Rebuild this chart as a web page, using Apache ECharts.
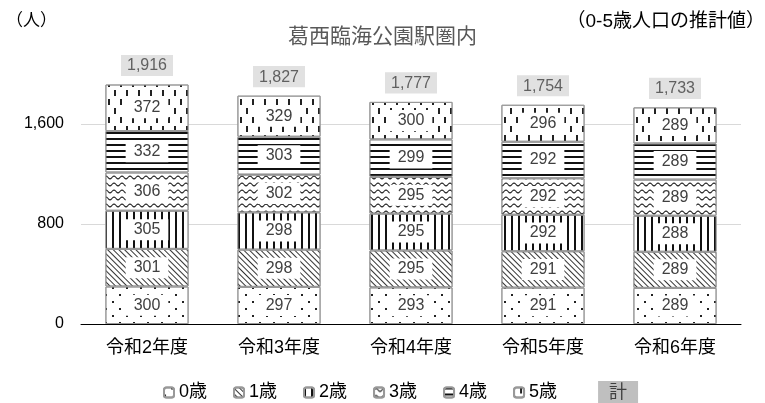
<!DOCTYPE html>
<html>
<head>
<meta charset="utf-8">
<script src="https://cdn.jsdelivr.net/npm/echarts@6/dist/echarts.min.js"></script>
<style>
  html, body { margin: 0; padding: 0; background: #fff; }
  #chart { width: 765px; height: 403px; }
</style>
</head>
<body>
<div id="chart"></div>
<script>
const categories = ["令和2年度", "令和3年度", "令和4年度", "令和5年度", "令和6年度"];
const age0 = [300, 297, 293, 291, 289];
const age1 = [301, 298, 295, 291, 289];
const age2 = [305, 298, 295, 292, 288];
const age3 = [306, 302, 295, 292, 289];
const age4 = [332, 303, 299, 292, 289];
const age5 = [372, 329, 300, 296, 289];
const totals = [1916, 1827, 1777, 1754, 1733];
const seriesNames = ["0歳", "1歳", "2歳", "3歳", "4歳", "5歳"];

const FONT = "'Liberation Sans', 'Noto Sans CJK JP', sans-serif";
const WAVE = "path://M0,3 Q3,-1 6,3 Q9,7 12,3 L12,5 Q9,9 6,5 Q3,1 0,5 Z";

// hatch patterns, one per age group
const decals = [
  { symbol: "rect", symbolSize: 1, color: "#222", dashArrayX: [[2, 12], [0, 7, 2, 5]], dashArrayY: [2, 5] },
  { symbol: "rect", symbolSize: 1, color: "#333", dashArrayX: [1, 0], dashArrayY: [1, 2.6], rotation: Math.PI / 4 },
  { symbol: "rect", symbolSize: 1, color: "#111", dashArrayX: [2, 5], dashArrayY: [1, 0] },
  { symbol: WAVE, symbolSize: 1, color: "#222", dashArrayX: [8, 0], dashArrayY: [5, 2] },
  { symbol: "rect", symbolSize: 1, color: "#111", dashArrayX: [1, 0], dashArrayY: [2, 4] },
  { symbol: "rect", symbolSize: 1, color: "#222", dashArrayX: [[2, 10], [0, 6, 2, 4]], dashArrayY: [6, 3] }
];

const ageData = [age0, age1, age2, age3, age4, age5];

const barSeries = ageData.map((arr, i) => ({
  name: seriesNames[i],
  type: "bar",
  stack: "total",
  barWidth: "63%",
  data: arr,
  itemStyle: {
    color: "#fff",
    borderColor: "#999",
    borderWidth: 1,
    decal: decals[i]
  },
  label: {
    show: true,
    position: "inside",
    color: "#404040",
    fontFamily: FONT,
    fontSize: 16,
    backgroundColor: "#fff",
    padding: [3, 8, 2, 8]
  },
  emphasis: { disabled: true }
}));

const chart = echarts.init(document.getElementById("chart"), null, { renderer: "canvas" });

chart.setOption({
  animation: false,
  aria: { enabled: false },
  title: {
    text: "葛西臨海公園駅圏内",
    left: "center",
    top: 22,
    textStyle: { fontFamily: FONT, fontSize: 21, fontWeight: "normal", color: "#595959" }
  },
  graphic: [
    { type: "text", left: 6, top: 13, style: { text: "（人）", font: "17px " + FONT, fill: "#000" } },
    { type: "text", right: 0, top: 12, style: { text: "（0-5歳人口の推計値）", font: "19px " + FONT, fill: "#000" } }
  ],
  grid: { left: 81, right: 24, top: 74, bottom: 79 },
  legend: {
    top: 376,
    left: 158,
    itemWidth: 10,
    itemHeight: 10,
    itemGap: 26,
    textStyle: {
      fontFamily: FONT,
      fontSize: 18,
      color: "#000",
      rich: {
        tot: { backgroundColor: "#bfbfbf", padding: [3, 11, 2, 11], fontSize: 18, fontFamily: FONT, color: "#404040" }
      }
    },
    formatter: (name) => (name === "計" ? "{tot|計}" : name),
    data: seriesNames.map((n) => ({ name: n })).concat([{ name: "計", icon: "rect", itemStyle: { opacity: 0 } }])
  },
  xAxis: {
    type: "category",
    data: categories,
    axisTick: { show: false },
    axisLine: { lineStyle: { color: "#000", width: 1 } },
    axisLabel: { fontFamily: FONT, fontSize: 18, color: "#000", margin: 15 }
  },
  yAxis: {
    type: "value",
    min: 0,
    max: 2000,
    interval: 800,
    axisLine: { show: false },
    axisTick: { show: false },
    splitLine: { lineStyle: { color: ["#d9d9d9", "#d9d9d9", "#d9d9d9", "rgba(0,0,0,0)"] } },
    axisLabel: {
      fontFamily: FONT,
      fontSize: 16,
      color: "#000",
      margin: 17,
      formatter: (v) => (v % 800 === 0 ? v.toLocaleString("en-US") : "")
    }
  },
  series: barSeries.concat([
    {
      name: "計",
      type: "scatter",
      data: totals,
      symbolSize: 1,
      itemStyle: { color: "rgba(0,0,0,0)" },
      label: {
        show: true,
        position: "top",
        distance: 8,
        formatter: (p) => p.value.toLocaleString("en-US"),
        color: "#404040",
        fontFamily: FONT,
        fontSize: 16,
        backgroundColor: "#d9d9d9",
        padding: [3, 6, 2, 6]
      },
      emphasis: { disabled: true }
    }
  ])
});
</script>
</body>
</html>
